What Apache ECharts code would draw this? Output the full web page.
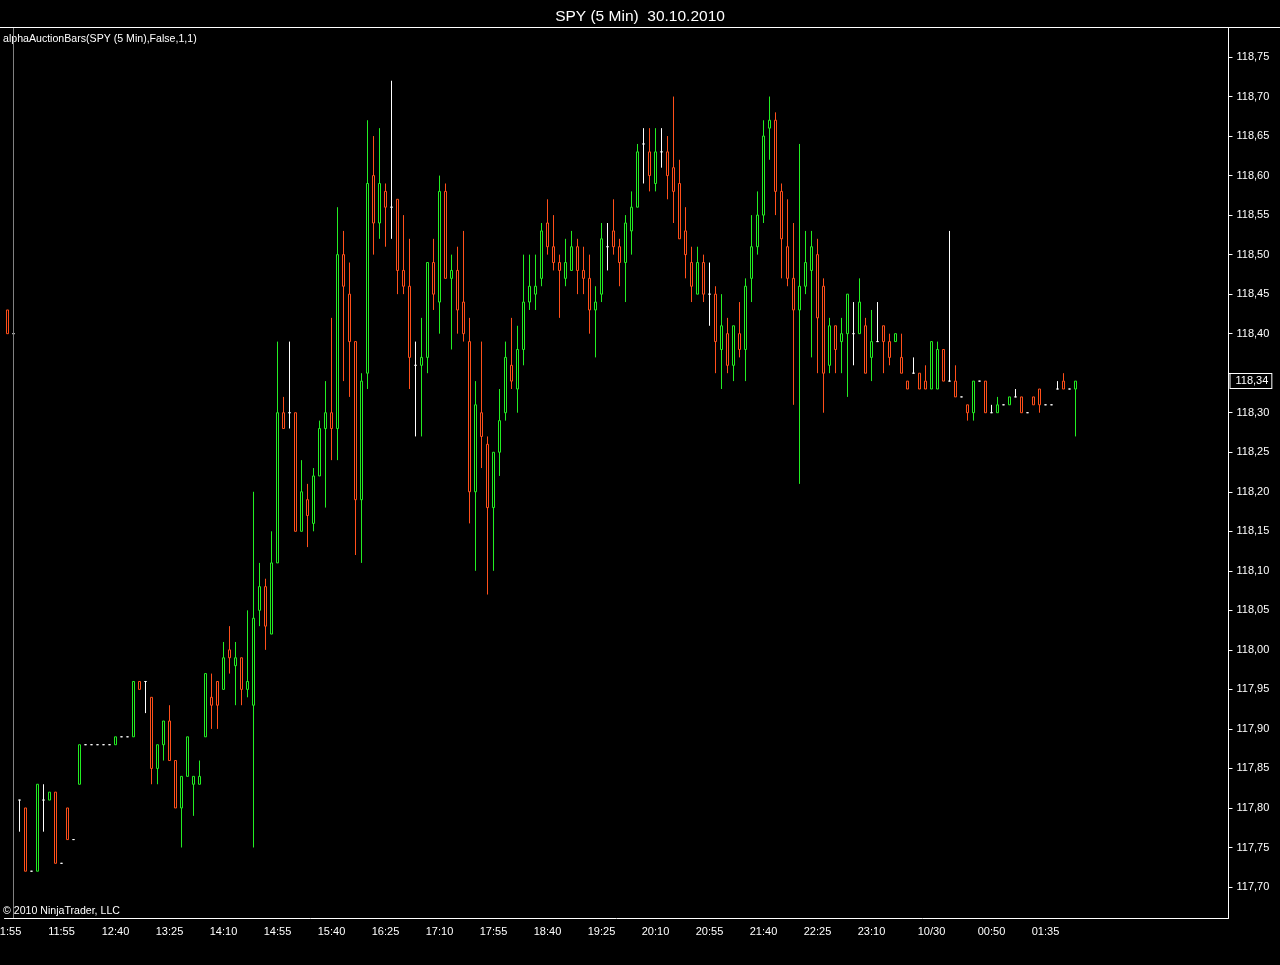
<!DOCTYPE html>
<html>
<head>
<meta charset="utf-8">
<script src="https://cdn.jsdelivr.net/npm/echarts@6/dist/echarts.min.js"></script>
<style>
html,body{margin:0;padding:0;background:#000;}
#chart{width:1280px;height:965px;}
</style>
</head>
<body>
<div id="chart"></div>
<script>
// ---- data ----
const times = [
'01:55','02:00',
'11:20','11:25','11:30','11:35','11:40','11:45','11:50','11:55',
'12:00','12:05','12:10','12:15','12:20','12:25','12:30','12:35','12:40','12:45','12:50','12:55',
'13:00','13:05','13:10','13:15','13:20','13:25','13:30','13:35','13:40','13:45','13:50','13:55',
'14:00','14:05','14:10','14:15','14:20','14:25','14:30','14:35','14:40','14:45','14:50','14:55',
'15:00','15:05','15:10','15:15','15:20','15:25','15:30','15:35','15:40','15:45','15:50','15:55',
'16:00','16:05','16:10','16:15','16:20','16:25','16:30','16:35','16:40','16:45','16:50','16:55',
'17:00','17:05','17:10','17:15','17:20','17:25','17:30','17:35','17:40','17:45','17:50','17:55',
'18:00','18:05','18:10','18:15','18:20','18:25','18:30','18:35','18:40','18:45','18:50','18:55',
'19:00','19:05','19:10','19:15','19:20','19:25','19:30','19:35','19:40','19:45','19:50','19:55',
'20:00','20:05','20:10','20:15','20:20','20:25','20:30','20:35','20:40','20:45','20:50','20:55',
'21:00','21:05','21:10','21:15','21:20','21:25','21:30','21:35','21:40','21:45','21:50','21:55',
'22:00','22:05','22:10','22:15','22:20','22:25','22:30','22:35','22:40','22:45','22:50','22:55',
'23:00','23:05','23:10','23:15','23:20','23:25','23:30','23:35','23:40','23:45','23:50','23:55',
'00:00','00:05','00:10','00:15','00:20','00:25','00:30','00:35','00:40','00:45','00:50','00:55',
'01:00','01:05','01:10','01:15','01:20','01:25','01:30','01:35','01:40','01:45','01:50','01:55',
'02:00'
];

const opens = [
118.43,118.40,
117.81,117.80,117.72,117.72,117.81,117.81,117.82,117.73,117.80,117.76,
117.83,117.88,117.88,117.88,117.88,117.88,117.88,117.89,117.89,117.89,
117.96,117.96,117.94,117.85,117.88,117.91,117.86,117.80,117.84,117.83,
117.83,117.89,117.94,117.96,117.95,118.00,117.98,117.99,117.95,117.93,
118.05,118.08,118.02,118.11,118.30,118.30,118.30,118.15,118.19,118.16,
118.22,118.28,118.30,118.28,118.50,118.45,118.39,118.19,118.35,118.60,
118.54,118.58,118.56,118.57,118.48,118.46,118.36,118.36,118.37,118.49,
118.44,118.58,118.47,118.48,118.44,118.39,118.20,118.30,118.26,118.18,
118.25,118.30,118.36,118.33,118.38,118.44,118.45,118.47,118.54,118.51,
118.49,118.47,118.48,118.51,118.48,118.47,118.43,118.45,118.51,118.53,
118.51,118.49,118.53,118.56,118.64,118.63,118.59,118.63,118.63,118.61,
118.59,118.53,118.49,118.45,118.49,118.45,118.45,118.38,118.40,118.36,
118.40,118.38,118.47,118.51,118.55,118.66,118.67,118.58,118.51,118.47,
118.43,118.46,118.48,118.50,118.46,118.36,118.41,118.39,118.40,118.40,
118.40,118.41,118.37,118.39,118.41,118.39,118.39,118.37,118.34,118.35,
118.35,118.34,118.33,118.33,118.38,118.34,118.34,118.32,118.31,118.30,
118.34,118.34,118.30,118.30,118.31,118.31,118.32,118.32,118.30,118.32,
118.33,118.31,118.31,118.33,118.34,118.33,118.33
];

const highs = [
118.43,118.42,
117.81,117.80,117.72,117.83,117.83,117.82,117.82,117.73,117.80,117.76,
117.88,117.88,117.88,117.88,117.88,117.88,117.89,117.89,117.89,117.96,
117.96,117.96,117.94,117.88,117.91,117.93,117.86,117.84,117.89,117.84,
117.86,117.97,117.97,117.96,118.01,118.03,118.01,117.99,118.05,118.20,
118.11,118.09,118.15,118.39,118.32,118.39,118.30,118.24,118.21,118.23,
118.29,118.34,118.42,118.56,118.53,118.49,118.39,118.35,118.67,118.65,
118.66,118.59,118.72,118.57,118.55,118.52,118.39,118.42,118.49,118.52,
118.60,118.59,118.50,118.51,118.53,118.42,118.34,118.39,118.27,118.25,
118.33,118.39,118.42,118.41,118.50,118.50,118.50,118.54,118.57,118.55,
118.50,118.52,118.53,118.52,118.51,118.50,118.46,118.54,118.54,118.57,
118.52,118.55,118.58,118.64,118.66,118.66,118.66,118.66,118.65,118.70,
118.62,118.56,118.51,118.51,118.50,118.49,118.46,118.45,118.42,118.41,
118.44,118.47,118.55,118.58,118.67,118.70,118.68,118.59,118.57,118.54,
118.64,118.53,118.53,118.52,118.47,118.42,118.41,118.42,118.45,118.44,
118.47,118.42,118.43,118.44,118.41,118.40,118.40,118.40,118.34,118.37,
118.35,118.36,118.39,118.39,118.38,118.53,118.36,118.32,118.31,118.34,
118.34,118.34,118.31,118.32,118.31,118.32,118.33,118.32,118.30,118.32,
118.33,118.31,118.31,118.34,118.35,118.33,118.34
];

const lows = [
118.40,118.40,
117.77,117.72,117.72,117.72,117.77,117.81,117.73,117.73,117.76,117.76,
117.83,117.88,117.88,117.88,117.88,117.88,117.88,117.89,117.89,117.89,
117.95,117.92,117.83,117.83,117.86,117.86,117.80,117.75,117.84,117.79,
117.83,117.89,117.90,117.90,117.95,117.97,117.93,117.93,117.94,117.75,
118.03,118.00,118.02,118.11,118.28,118.28,118.15,118.15,118.13,118.15,
118.22,118.18,118.24,118.24,118.34,118.32,118.12,118.11,118.33,118.50,
118.52,118.51,118.52,118.45,118.45,118.33,118.27,118.27,118.35,118.43,
118.40,118.47,118.38,118.40,118.39,118.16,118.10,118.23,118.07,118.10,
118.22,118.29,118.33,118.30,118.36,118.43,118.43,118.46,118.50,118.48,
118.42,118.46,118.48,118.45,118.45,118.40,118.37,118.44,118.48,118.50,
118.46,118.44,118.50,118.56,118.59,118.58,118.58,118.61,118.57,118.54,
118.52,118.47,118.44,118.45,118.44,118.41,118.35,118.33,118.35,118.34,
118.37,118.34,118.44,118.50,118.54,118.62,118.55,118.47,118.46,118.31,
118.21,118.45,118.37,118.35,118.30,118.35,118.35,118.35,118.32,118.36,
118.40,118.35,118.34,118.39,118.35,118.36,118.39,118.35,118.33,118.35,
118.33,118.33,118.33,118.33,118.34,118.34,118.32,118.32,118.29,118.29,
118.34,118.30,118.30,118.30,118.31,118.31,118.32,118.30,118.30,118.31,
118.30,118.31,118.31,118.33,118.33,118.33,118.27
];

const closes = [
118.40,118.40,
117.81,117.72,117.72,117.83,117.81,117.82,117.73,117.73,117.76,117.76,
117.88,117.88,117.88,117.88,117.88,117.88,117.89,117.89,117.89,117.96,
117.95,117.96,117.85,117.88,117.91,117.86,117.80,117.84,117.89,117.84,
117.84,117.97,117.93,117.93,117.99,117.99,117.99,117.95,117.96,118.04,
118.08,118.03,118.11,118.30,118.28,118.30,118.15,118.20,118.17,118.22,
118.28,118.30,118.28,118.50,118.46,118.39,118.19,118.34,118.59,118.54,
118.59,118.56,118.56,118.48,118.46,118.37,118.36,118.37,118.49,118.45,
118.58,118.47,118.48,118.43,118.40,118.20,118.31,118.27,118.18,118.25,
118.29,118.37,118.34,118.38,118.44,118.46,118.46,118.53,118.51,118.49,
118.48,118.49,118.51,118.48,118.47,118.43,118.44,118.52,118.51,118.51,
118.49,118.54,118.56,118.63,118.64,118.60,118.63,118.63,118.60,118.58,
118.52,118.50,118.46,118.49,118.45,118.45,118.39,118.41,118.36,118.41,
118.38,118.46,118.51,118.55,118.65,118.67,118.58,118.52,118.47,118.43,
118.46,118.49,118.51,118.42,118.35,118.41,118.38,118.40,118.45,118.40,
118.44,118.35,118.39,118.39,118.39,118.37,118.40,118.35,118.33,118.35,
118.33,118.33,118.39,118.38,118.34,118.34,118.32,118.32,118.30,118.34,
118.34,118.30,118.30,118.31,118.31,118.32,118.32,118.30,118.30,118.31,
118.31,118.31,118.31,118.33,118.33,118.33,118.34
];

const xTickTimes = ['01:55','11:55','12:40','13:25','14:10','14:55','15:40','16:25','17:10','17:55',
                    '18:40','19:25','20:10','20:55','21:40','22:25','23:10','00:00','00:50','01:35'];
const xTickTexts = ['01:55','11:55','12:40','13:25','14:10','14:55','15:40','16:25','17:10','17:55',
                    '18:40','19:25','20:10','20:55','21:40','22:25','23:10','10/30','00:50','01:35'];
const priceTicks = [117.70,117.75,117.80,117.85,117.90,117.95,118.00,118.05,118.10,118.15,118.20,
                    118.25,118.30,118.35,118.40,118.45,118.50,118.55,118.60,118.65,118.70,118.75];
const lastPrice = 118.34;
const sessionBreakIndex = 1;

// ---- build ----
const TOTAL_SLOTS = 204; // includes empty right margin of the chart
const cats = times.slice();
while (cats.length < TOTAL_SLOTS) cats.push('');

const tickIdx = new Map();
xTickTimes.forEach((t, j) => {
  const i = times.indexOf(t);
  if (i >= 0) tickIdx.set(i, xTickTexts[j]);
});

const candles = times.map((t, i) => [opens[i], closes[i], lows[i], highs[i]]);
const fmtPrice = (v) => v.toFixed(2).replace('.', ',');

const FONT = "'Liberation Sans', Arial, sans-serif";
const chart = echarts.init(document.getElementById('chart'), null, {renderer: 'canvas'});
chart.setOption({
  backgroundColor: '#000',
  animation: false,
  title: {
    text: 'SPY (5 Min)  30.10.2010',
    left: 'center', top: 4,
    textStyle: {color: '#fff', fontSize: 15.5, fontWeight: 'normal', fontFamily: FONT}
  },
  grid: {left: 4.5, top: 28, width: 1224, height: 890, containLabel: false, outerBoundsMode: 'none'},
  xAxis: {
    type: 'category',
    data: cats,
    boundaryGap: true,
    axisLine: {show: true, lineStyle: {color: '#ffffff', width: 1}},
    axisTick: {show: false},
    splitLine: {show: false},
    axisLabel: {
      color: '#fff', fontSize: 11, fontFamily: FONT, margin: 8,
      hideOverlap: false,
      interval: (i) => tickIdx.has(i),
      formatter: (v, i) => tickIdx.has(i) ? tickIdx.get(i) : ''
    }
  },
  yAxis: {
    type: 'value',
    position: 'right',
    min: 117.6608,
    max: 118.7867,
    scale: true,
    axisLine: {show: true, lineStyle: {color: '#ffffff'}},
    axisTick: {show: true, customValues: priceTicks, length: 4, lineStyle: {color: '#fff'}},
    axisLabel: {
      customValues: priceTicks, color: '#fff', fontSize: 11, fontFamily: FONT, margin: 8,
      // the label under the last-price marker is covered by it
      formatter: (v) => Math.abs(v - lastPrice) < 0.02 ? '' : fmtPrice(v)
    },
    splitLine: {show: false}
  },
  graphic: [
    {type: 'line', shape: {x1: 0, y1: 27.5, x2: 1280, y2: 27.5}, style: {stroke: '#ffffff', lineWidth: 1}, z: 10},
    {type: 'text', left: 3, top: 34, style: {text: 'alphaAuctionBars(SPY (5 Min),False,1,1)', fill: '#fff', font: '10.6px ' + FONT}, z: 10},
    {type: 'text', left: 3, top: 906, style: {text: '\u00a9 2010 NinjaTrader, LLC', fill: '#fff', font: '10.6px ' + FONT}, z: 10}
  ],
  series: [{
    type: 'candlestick',
    data: candles,
    barWidth: 3,
    z: 5,
    itemStyle: {
      color: '#000000',
      color0: '#000000',
      borderColor: '#22ee22',
      borderColor0: '#ff4f1a',
      borderColorDoji: '#ffffff',
      borderWidth: 1
    },
    markLine: {
      silent: true,
      symbol: ['none', 'none'],
      animation: false,
      z: 20,
      data: [
        {
          xAxis: sessionBreakIndex,
          lineStyle: {color: '#808080', width: 1, type: 'solid'},
          label: {show: false}
        },
        {
          yAxis: lastPrice,
          lineStyle: {color: 'rgba(0,0,0,0)', width: 1},
          label: {
            show: true, position: 'end', distance: 2,
            formatter: () => fmtPrice(lastPrice),
            color: '#fff', fontSize: 11, fontFamily: FONT,
            backgroundColor: '#000', borderColor: '#fff', borderWidth: 1,
            padding: [2, 3, 1, 5]
          }
        }
      ]
    }
  }]
});
</script>
</body>
</html>
